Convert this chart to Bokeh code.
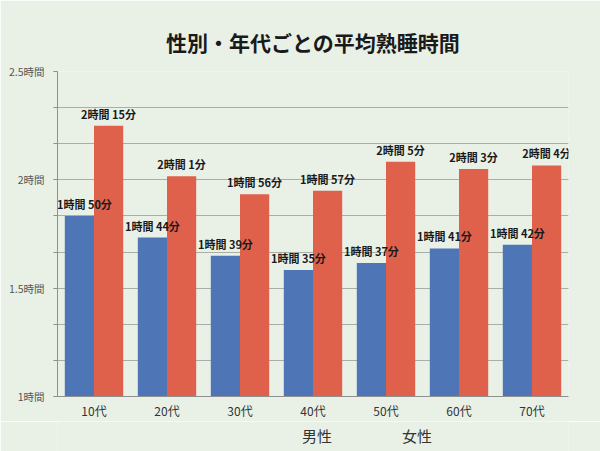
from bokeh.plotting import figure
from bokeh.layouts import column
from bokeh.models import ColumnDataSource, FactorRange, Range1d, FixedTicker, Legend, LegendItem, LabelSet
from bokeh.transform import dodge
from bokeh.core.properties import value
from bokeh.embed import file_html
from bokeh.resources import INLINE

categories = ["10代", "20代", "30代", "40代", "50代", "60代", "70代"]
male_minutes = [110, 104, 99, 95, 97, 101, 102]
female_minutes = [135, 121, 116, 117, 125, 123, 124]
series_names = ["男性", "女性"]
y_major_ticks = [1, 1.5, 2, 2.5]
y_tick_labels = ["1時間", "1.5時間", "2時間", "2.5時間"]
y_minor_step = 1 / 6

FONT = "Noto Sans CJK JP"
BLUE = "#4e76b6"
RED = "#e0614b"
BG = "#e9f1e7"


def fmt(m):
    return f"{m // 60}時間 {m % 60}分"


# keep the first (leftmost) label inside the plot frame
male_dx = [5] + [0] * (len(categories) - 1)

src = ColumnDataSource(dict(
    cat=categories,
    male=[m / 60 for m in male_minutes],
    female=[m / 60 for m in female_minutes],
    male_lbl=[fmt(m) for m in male_minutes],
    female_lbl=[fmt(m) for m in female_minutes],
    male_dx=male_dx,
    female_dx=[0] * len(categories),
))

p = figure(x_range=FactorRange(*categories), y_range=Range1d(1, 2.5),
           frame_width=511, frame_height=325,
           min_border_left=57, min_border_right=32, min_border_top=71, min_border_bottom=25,
           output_backend="svg", toolbar_location=None,
           background_fill_color=BG, border_fill_color=BG, outline_line_color=None)

p.title.text = "性別・年代ごとの平均熟睡時間"
p.title.align = "center"
p.title.text_font = FONT
p.title.text_font_size = "21px"
p.title.text_font_style = "bold"
p.title.text_color = "#1a1a1a"
p.title.standoff = 30

p.vbar(x=dodge("cat", -0.2, range=p.x_range), bottom=1, top="male", width=0.4,
       source=src, fill_color=BLUE, line_color=None)
p.vbar(x=dodge("cat", 0.2, range=p.x_range), bottom=1, top="female", width=0.4,
       source=src, fill_color=RED, line_color=None)

for col, off in (("male", -0.2), ("female", 0.2)):
    p.add_layout(LabelSet(x=dodge("cat", off, range=p.x_range), y=col, text=col + "_lbl",
                          source=src, text_align="center", text_baseline="bottom",
                          y_offset=4, x_offset=col + "_dx",
                          text_font=value(FONT), text_font_size=value("11px"),
                          text_font_style=value("bold"), text_color="#1a1a1a"))

# axes
p.yaxis.ticker = FixedTicker(ticks=y_major_ticks,
                             minor_ticks=[1 + i * y_minor_step for i in range(10)])
p.yaxis.major_label_overrides = {t: l for t, l in zip(y_major_ticks, y_tick_labels)}
p.yaxis.major_label_text_font = FONT
p.yaxis.major_label_text_font_size = "10.5px"
p.yaxis.major_label_text_color = "#555555"
p.yaxis.axis_line_color = "#8f8f8f"
p.yaxis.major_tick_line_color = "#8f8f8f"
p.yaxis.minor_tick_line_color = "#8f8f8f"
p.yaxis.major_tick_in = 0
p.yaxis.major_tick_out = 4
p.yaxis.minor_tick_in = 0
p.yaxis.minor_tick_out = 4
p.yaxis.major_label_standoff = 9

p.xaxis.major_label_text_font = FONT
p.xaxis.major_label_text_font_size = "12px"
p.xaxis.major_label_text_color = "#333333"
p.xaxis.axis_line_color = "#8f8f8f"
p.xaxis.major_tick_line_color = None
p.xaxis.minor_tick_line_color = None
p.xaxis.major_tick_out = 0
p.xaxis.major_tick_in = 0
p.xaxis.major_label_standoff = 5

p.xgrid.grid_line_color = None
p.ygrid.grid_line_color = "#a9afa8"
p.ygrid.minor_grid_line_color = "#a9afa8"

# legend strip below the chart (a figure that only holds the legend)
leg = figure(width=600, height=30, x_axis_type=None, y_axis_type=None,
             min_border_left=0, min_border_right=0, min_border_top=0, min_border_bottom=0,
             output_backend="svg", toolbar_location=None,
             background_fill_color=BG, border_fill_color=BG, outline_line_color=None)
leg.xgrid.grid_line_color = None
leg.ygrid.grid_line_color = None
sw_m = leg.vbar(x=[], top=[], width=0.4, fill_color=BLUE, line_color=None)
sw_f = leg.vbar(x=[], top=[], width=0.4, fill_color=RED, line_color=None)

legend = Legend(items=[LegendItem(label=series_names[0], renderers=[sw_m]),
                       LegendItem(label=series_names[1], renderers=[sw_f])],
                orientation="horizontal", location=(223, 5),
                margin=0, padding=0, spacing=48, label_standoff=8,
                glyph_width=14, glyph_height=14,
                label_text_font=FONT, label_text_font_size="15px", label_text_color="#333333",
                background_fill_alpha=0, border_line_color=None)
leg.add_layout(legend, "center")

layout = column(p, leg, spacing=0)
open("out.html", "w").write(file_html(layout, INLINE))
